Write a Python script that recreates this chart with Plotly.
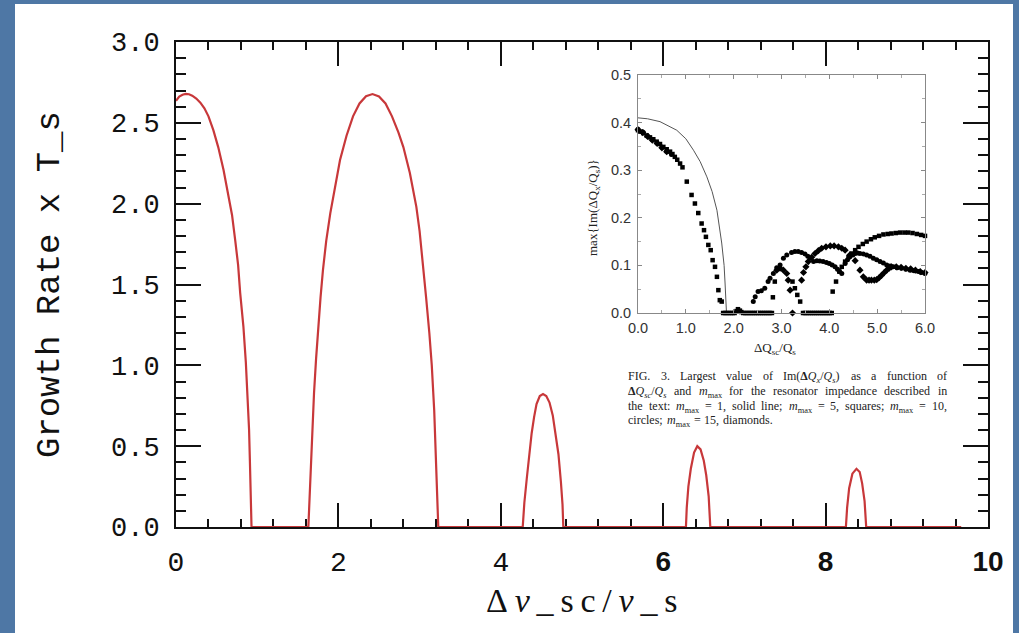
import plotly.graph_objects as go

W, H = 1019, 633

# ---- main curve: growth rate vs space-charge tune shift ----
growth_x = [0.00, 0.04, 0.08, 0.12, 0.16, 0.20, 0.25, 0.30, 0.35, 0.40, 0.46, 0.52, 0.585, 0.64, 0.69,
            0.73, 0.765, 0.79, 0.83, 0.86, 0.88, 0.90, 0.91, 0.92, 0.93,
            1.63, 1.645, 1.66, 1.68, 1.70, 1.725, 1.75, 1.78, 1.81, 1.85, 1.90, 1.96, 2.02, 2.10, 2.18,
            2.26, 2.34, 2.42, 2.50, 2.58, 2.66, 2.74, 2.80, 2.88, 2.96, 3.00, 3.04, 3.08, 3.12, 3.15,
            3.18, 3.20, 3.22, 3.23,
            4.27, 4.29, 4.32, 4.35, 4.38, 4.41, 4.44, 4.48, 4.52, 4.56, 4.60, 4.64, 4.68, 4.71, 4.74,
            4.76, 4.77,
            6.28, 6.29, 6.31, 6.34, 6.38, 6.42, 6.46, 6.50, 6.53, 6.56, 6.58,
            8.25, 8.265, 8.29, 8.33, 8.38, 8.42, 8.45, 8.48, 8.50,
            9.67]
growth_y = [2.636, 2.662, 2.674, 2.679, 2.677, 2.668, 2.650, 2.625, 2.590, 2.540, 2.455, 2.350, 2.210, 2.070, 1.930,
            1.770, 1.620, 1.450, 1.240, 1.020, 0.830, 0.600, 0.410, 0.220, 0.0,
            0.0, 0.200, 0.410, 0.620, 0.830, 1.040, 1.240, 1.420, 1.590, 1.770, 1.940, 2.110, 2.270, 2.420, 2.540,
            2.620, 2.665, 2.678, 2.663, 2.620, 2.540, 2.440, 2.350, 2.190, 1.980, 1.830, 1.640, 1.420, 1.200, 1.000,
            0.720, 0.450, 0.200, 0.0,
            0.0, 0.150, 0.300, 0.460, 0.580, 0.680, 0.760, 0.810, 0.822, 0.810, 0.770, 0.690, 0.560, 0.450, 0.280,
            0.140, 0.0,
            0.0, 0.120, 0.250, 0.360, 0.460, 0.500, 0.480, 0.410, 0.320, 0.190, 0.0,
            0.0, 0.120, 0.240, 0.330, 0.360, 0.340, 0.270, 0.160, 0.0,
            0.0]

x_ticks = [0, 2, 4, 6, 8, 10]
x_tick_text = ["0", "2", "4",
               "<span style='font-family:Liberation Sans;font-weight:bold'>6</span>",
               "<span style='font-family:Liberation Sans;font-weight:bold'>8</span>",
               "<span style='font-family:Liberation Sans;font-weight:bold'>10</span>"]

# ---- inset (FIG. 3): largest Im(dQx/Qs) vs dQsc/Qs ----
m1_x = [0.00, 0.20, 0.46, 0.81, 1.00, 1.16, 1.30, 1.44, 1.55, 1.65, 1.75, 1.80, 1.82, 1.84, 1.85]
m1_y = [0.410, 0.408, 0.402, 0.384, 0.366, 0.342, 0.318, 0.286, 0.255, 0.216, 0.147, 0.100, 0.063, 0.030, 0.0]

m5_x = [0.00, 0.05, 0.11, 0.18, 0.25, 0.32, 0.39, 0.46, 0.53, 0.60, 0.67, 0.72, 0.77, 0.82, 0.88, 0.93,
        1.02, 1.12, 1.19, 1.26, 1.33, 1.38, 1.42, 1.47, 1.52, 1.56, 1.61, 1.65, 1.68, 1.71, 1.75,
        1.78, 1.82, 1.86, 1.90, 1.94, 1.98, 2.02, 2.06, 2.09, 2.13, 2.16, 2.20, 2.24, 2.28, 2.32,
        2.36, 2.40, 2.44, 2.48, 2.52, 2.56, 2.60, 2.64, 2.68, 2.72, 2.76, 2.80,
        2.82, 2.86, 3.23, 3.28, 3.33, 3.39,
        3.45, 3.49, 3.53, 3.57, 3.61, 3.65, 3.69, 3.73, 3.77, 3.81, 3.85, 3.89, 3.93, 3.97, 4.01, 4.05,
        4.07, 4.14, 4.21, 4.26, 4.33, 4.40, 4.47, 4.54, 4.61, 4.70, 4.78, 4.87, 4.95, 5.04, 5.13,
        5.22, 5.30, 5.39, 5.48, 5.57, 5.65, 5.74, 5.83, 5.92, 6.00]
m5_y = [0.384, 0.381, 0.378, 0.373, 0.369, 0.365, 0.360, 0.355, 0.349, 0.344, 0.339, 0.334, 0.328, 0.322, 0.314, 0.306,
        0.276, 0.248, 0.230, 0.210, 0.188, 0.174, 0.160, 0.143, 0.132, 0.111, 0.097, 0.076, 0.048, 0.027, 0.024,
        0.0, 0.0, 0.0, 0.0, 0.0, 0.0, 0.0, 0.004, 0.008, 0.005, 0.002, 0.0, 0.0, 0.0, 0.0,
        0.0, 0.0, 0.0, 0.0, 0.0, 0.0, 0.0, 0.0, 0.0, 0.0, 0.0, 0.0,
        0.033, 0.066, 0.066, 0.052, 0.038, 0.024,
        0.0, 0.0, 0.0, 0.0, 0.0, 0.0, 0.0, 0.0, 0.0, 0.0, 0.0, 0.0, 0.0, 0.0, 0.0, 0.0,
        0.045, 0.066, 0.087, 0.097, 0.108, 0.117, 0.125, 0.132, 0.139, 0.145, 0.150, 0.155, 0.159, 0.162, 0.165,
        0.166, 0.167, 0.168, 0.169, 0.169, 0.169, 0.168, 0.166, 0.164, 0.162]

m10_x = [0.00, 0.10, 0.20, 0.30, 0.40, 0.50, 0.60, 0.70,
         2.41, 2.45, 2.51, 2.58, 2.65, 2.72, 2.76, 2.83, 2.90, 2.97, 3.04, 3.11, 3.21, 3.28, 3.35, 3.42, 3.49,
         3.55, 3.60, 3.67, 3.74, 3.80, 3.87, 3.94, 4.00, 4.06, 4.12, 4.17, 4.21, 4.26, 4.33, 4.38, 4.43, 4.49,
         4.54, 4.59, 4.64, 4.71, 4.78, 4.85, 4.92, 4.99, 5.06, 5.13, 5.20, 5.27, 5.34, 5.42, 5.51, 5.60,
         5.69, 5.77, 5.86, 5.93, 6.00]
m10_y = [0.386, 0.380, 0.372, 0.364, 0.357, 0.348, 0.340, 0.333,
         0.024, 0.034, 0.045, 0.047, 0.052, 0.066, 0.073, 0.083, 0.095, 0.101, 0.115, 0.122, 0.127, 0.129, 0.129, 0.127, 0.124,
         0.119, 0.115, 0.108, 0.110, 0.109, 0.108, 0.106, 0.104, 0.101, 0.097, 0.092, 0.087, 0.083, 0.104, 0.112, 0.118, 0.122,
         0.125, 0.126, 0.125, 0.124, 0.122, 0.119, 0.115, 0.112, 0.108, 0.105, 0.101, 0.099, 0.097, 0.095, 0.094, 0.092,
         0.090, 0.089, 0.087, 0.085, 0.083]

m15_x = [0.00, 0.10, 0.20, 0.30, 0.40, 0.50, 0.60,
         2.90, 2.97, 3.04, 3.11, 3.14, 3.18, 3.23,
         3.42, 3.46, 3.51, 3.56, 3.63, 3.70, 3.77, 3.84, 3.93, 4.02, 4.10, 4.19, 4.26, 4.33, 4.43,
         4.54, 4.64, 4.71, 4.78, 4.83, 4.88, 4.94, 4.99, 5.04, 5.09, 5.15, 5.20, 5.25, 5.30,
         5.40, 5.50, 5.60, 5.70, 5.80, 5.90, 6.00]
m15_y = [0.385, 0.379, 0.371, 0.363, 0.356, 0.347, 0.339,
         0.090, 0.094, 0.090, 0.083, 0.069, 0.048, 0.0,
         0.069, 0.085, 0.097, 0.108, 0.117, 0.125, 0.131, 0.136, 0.139, 0.141, 0.141, 0.139, 0.136, 0.132, 0.122,
         0.110, 0.090, 0.076, 0.069, 0.069, 0.069, 0.069, 0.070, 0.074, 0.079, 0.085, 0.090, 0.094, 0.097,
         0.097, 0.096, 0.094, 0.093, 0.090, 0.087, 0.085]


def px_x(p):
    return p / W


def px_y(p):
    return 1 - p / H


fig = go.Figure()

fig.add_trace(go.Scatter(x=growth_x, y=growth_y, mode="lines",
                         line=dict(color="#c8383a", width=2.2), cliponaxis=False,
                         xaxis="x", yaxis="y", showlegend=False))

fig.add_trace(go.Scatter(x=m1_x, y=m1_y, mode="lines", line=dict(color="#555555", width=1),
                         xaxis="x2", yaxis="y2", showlegend=False))
fig.add_trace(go.Scatter(x=m5_x, y=m5_y, mode="markers",
                         marker=dict(symbol="square", size=4.5, color="black"),
                         xaxis="x2", yaxis="y2", showlegend=False, cliponaxis=False))
fig.add_trace(go.Scatter(x=m10_x, y=m10_y, mode="markers",
                         marker=dict(symbol="circle", size=5, color="black"),
                         xaxis="x2", yaxis="y2", showlegend=False, cliponaxis=False))
fig.add_trace(go.Scatter(x=m15_x, y=m15_y, mode="markers",
                         marker=dict(symbol="diamond", size=5.5, color="black"),
                         xaxis="x2", yaxis="y2", showlegend=False, cliponaxis=False))

mono = "Liberation Mono"
serif = "Liberation Serif"

fig.update_layout(
    template="none",
    width=W, height=H,
    margin=dict(l=0, r=0, t=0, b=0, pad=0, autoexpand=False),
    paper_bgcolor="#4e77a5",
    plot_bgcolor="white",
    xaxis=dict(domain=[px_x(176), px_x(988)], range=[0, 10], anchor="y", automargin=False,
               tickmode="array", tickvals=x_ticks, ticktext=x_tick_text,
               ticks="inside", ticklen=24, tickwidth=2, tickcolor="#111",
               showline=True, linecolor="#111", linewidth=2, mirror="ticks",
               showgrid=False, zeroline=False, layer="below traces",
               tickfont=dict(family=mono, size=28, color="#111"), ticklabelstandoff=8,
               minor=dict(tickmode="linear", tick0=0, dtick=0.4, ticks="inside",
                          ticklen=8, tickwidth=2, tickcolor="#111", showgrid=False)),
    yaxis=dict(domain=[px_y(527), px_y(42)], range=[0, 3], anchor="x", automargin=False,
               tickmode="linear", tick0=0, dtick=0.5, tickformat=".1f",
               ticks="inside", ticklen=25, tickwidth=2, tickcolor="#111",
               showline=True, linecolor="#111", linewidth=2, mirror="ticks",
               showgrid=False, zeroline=False, layer="below traces",
               tickfont=dict(family=mono, size=27, color="#111"), ticklabelstandoff=9,
               minor=dict(tickmode="linear", tick0=0, dtick=0.1, ticks="inside",
                          ticklen=10, tickwidth=2, tickcolor="#111", showgrid=False)),
    xaxis2=dict(domain=[px_x(638), px_x(925)], range=[0, 6], anchor="y2", automargin=False,
                tickmode="linear", tick0=0, dtick=1, tickformat=".1f",
                ticks="inside", ticklen=4, tickwidth=1, tickcolor="#888",
                showline=True, linecolor="#888", linewidth=1, mirror="ticks",
                showgrid=False, zeroline=False,
                tickfont=dict(family="Liberation Sans", size=14.5, color="#333"), ticklabelstandoff=2,
                minor=dict(tickmode="linear", tick0=0, dtick=0.5, ticks="inside",
                           ticklen=3, tickwidth=1, tickcolor="#aaa")),
    yaxis2=dict(domain=[px_y(313), px_y(75)], range=[0, 0.5], anchor="x2", automargin=False,
                tickmode="linear", tick0=0, dtick=0.1, tickformat=".1f",
                ticks="inside", ticklen=4, tickwidth=1, tickcolor="#888",
                showline=True, linecolor="#888", linewidth=1, mirror="ticks",
                showgrid=False, zeroline=False,
                tickfont=dict(family="Liberation Sans", size=14.5, color="#333"), ticklabelstandoff=3,
                minor=dict(tickmode="linear", tick0=0, dtick=0.05, ticks="inside",
                           ticklen=3, tickwidth=1, tickcolor="#aaa")),
    shapes=[dict(type="rect", xref="paper", yref="paper", layer="below",
                 x0=px_x(15), x1=px_x(1013), y0=0, y1=px_y(4),
                 fillcolor="white", line=dict(width=0))],
)


def sub(s):
    return "<sub>%s</sub>" % s


annotations = [
    dict(text="Growth Rate x T_s", x=px_x(50), y=px_y(285), textangle=-90,
         font=dict(family=mono, size=34, color="#111")),
    dict(text="\u2009".join(["Δ", "<i>ν</i>", "_", "s", "c", "/", "<i>ν</i>", "_", "s"]),
         x=px_x(582), y=px_y(600), font=dict(family=serif, size=34, color="#111")),
    dict(text="ΔQ" + sub("sc") + "/Q" + sub("s"), x=px_x(775), y=px_y(348),
         font=dict(family=serif, size=13, color="#222")),
    dict(text="max{Im(ΔQ" + sub("x") + "/Q" + sub("s") + ")}", x=px_x(593), y=px_y(208),
         textangle=-90, font=dict(family=serif, size=13, color="#222")),
]

# ---- figure caption, typeset word by word (justified) ----
TIMES = {' ': 250, 'F': 556, 'I': 333, 'G': 722, '.': 250, '3': 500, 'L': 611, 'a': 444, 'r': 333,
         'g': 500, 'e': 444, 's': 389, 't': 278, 'v': 500, 'l': 278, 'u': 500, 'o': 500, 'f': 333,
         'm': 778, '(': 333, ')': 333, '/': 278, 'n': 500, 'c': 444, 'i': 278, 'd': 500, 'h': 500,
         'p': 500, 'x': 500, ':': 278, ',': 250, ';': 278, '=': 564, '1': 500, '5': 500, '0': 500,
         'q': 500, 'b': 500, 'Δ': 612, 'Q': 722, 'k': 500, 'w': 722, 'y': 500, 'z': 444}
TIMES_I = {'Q': 722, 'm': 722, 'x': 444, 's': 389, 'c': 444}


def seg_width(text, style, size):
    table = TIMES_I if 'i' in style else TIMES
    scale = 0.7 if style.startswith('s') else 1.0
    w = sum(table.get(ch, TIMES.get(ch, 500)) for ch in text)
    if 'b' in style:
        w *= 1.08
    return w * scale * size / 1000.0


def seg_html(text, style):
    t = text
    if 'i' in style:
        t = "<i>%s</i>" % t
    if 'b' in style:
        t = "<b>%s</b>" % t
    if style.startswith('s'):
        t = sub(t)
    return t


def word(*parts):
    return [p if isinstance(p, tuple) else (p, 'r') for p in parts]


MMAX = word(('m', 'i'), ('max', 's'))
DQX = word('Im(', ('Δ', 'b'), ('Q', 'i'), ('x', 'si'), '/', ('Q', 'i'), ('s', 'si'), ')')
DQSC = word(('Δ', 'b'), ('Q', 'i'), ('sc', 'si'), '/', ('Q', 'i'), ('s', 'si'))

caption = [
    (True, [word('FIG.'), word('3.'), word('Largest'), word('value'), word('of'), DQX,
            word('as'), word('a'), word('function'), word('of')]),
    (True, [DQSC, word('and'), MMAX, word('for'), word('the'), word('resonator'),
            word('impedance'), word('described'), word('in')]),
    (True, [word('the'), word('text:'), MMAX, word('='), word('1,'), word('solid'), word('line;'),
            MMAX, word('='), word('5,'), word('squares;'), MMAX, word('='), word('10,')]),
    (False, [word('circles;'), MMAX, word('='), word('15,'), word('diamonds.')]),
]
cap_left, cap_right = 628, 947
cap_size = 12
cap_tops = [369, 384, 399, 413]

for (justify, words), top in zip(caption, cap_tops):
    widths = [sum(seg_width(t, s, cap_size) for t, s in w) for w in words]
    if justify:
        gap = (cap_right - cap_left - sum(widths)) / (len(words) - 1)
    else:
        gap = seg_width(' ', 'r', cap_size) * 1.3
    xpos = cap_left
    for w, wd in zip(words, widths):
        annotations.append(dict(text="".join(seg_html(t, s) for t, s in w),
                                x=px_x(xpos), y=px_y(top), xanchor="left", yanchor="top",
                                borderpad=0, borderwidth=0,
                                font=dict(family=serif, size=cap_size, color="#222")))
        xpos += wd + gap

for a in annotations:
    a.setdefault("xref", "paper")
    a.setdefault("yref", "paper")
    a.setdefault("showarrow", False)
    a.setdefault("xanchor", "center")
    a.setdefault("yanchor", "middle")

fig.update_layout(annotations=annotations)

fig.write_html("out.html")
